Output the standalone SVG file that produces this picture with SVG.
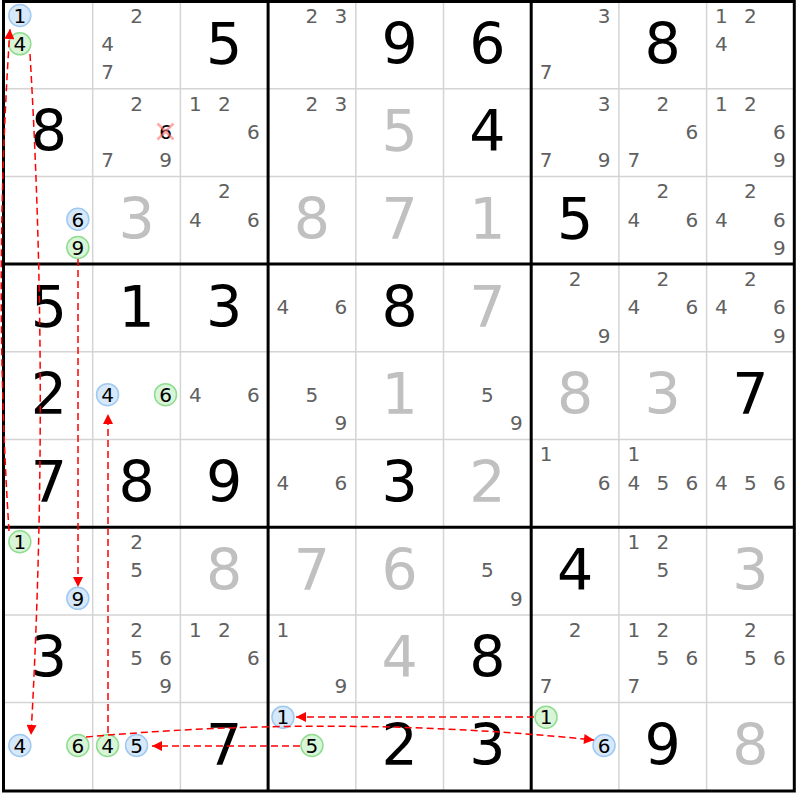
<svg xmlns="http://www.w3.org/2000/svg" width="800" height="800" viewBox="0 0 800 800">
<style>
text{font-family:"DejaVu Sans","Noto Sans",sans-serif;text-anchor:middle}
.g{font-size:57px;fill:#000}
.s{font-size:57px;fill:#c0c0c0}
.c{font-size:20px;fill:#606060}
.k{font-size:20px;fill:#000}
.thin{stroke:#d4d4d4;stroke-width:1.5}
.thick{stroke:#000;stroke-width:3}
.cb{fill:#d6e9fa;stroke:#a0c8f0;stroke-width:1.5}
.cg{fill:#d8f5d8;stroke:#90dc90;stroke-width:1.5}
.lk{fill:none;stroke:#ff0000;stroke-width:1.5;stroke-dasharray:7 4;marker-end:url(#arr)}
.x{stroke:#ff7070;stroke-opacity:0.6;stroke-width:2.5}
</style>
<defs>
<marker id="arr" viewBox="0 0 10 10" refX="10" refY="5" markerWidth="11" markerHeight="10" markerUnits="userSpaceOnUse" orient="auto">
<path d="M0,0 L10,5 L0,10 z" fill="#ff0000"/>
</marker>
</defs>
<rect x="0" y="0" width="800" height="800" fill="#fff"/>
<g id="grid">
<path class="thin" d="M92.7 1V790.3M180.4 1V790.3M355.8 1V790.3M443.5 1V790.3M618.9 1V790.3M706.6 1V790.3M5 88.7H794.3M5 176.4H794.3M5 351.8H794.3M5 439.5H794.3M5 614.9H794.3M5 702.6H794.3"/>
<path class="thick" d="M268.1 1V790.3M531.2 1V790.3M5 264.1H794.3M5 527.2H794.3"/>
<rect class="thick" x="3.5" y="1.5" width="790.8" height="789.5" fill="none"/>
</g>
<!-- Row 0 -->
<g id="r0c0"><circle class="cb" cx="19.85" cy="15.55" r="11"/><text class="k" x="19.85" y="22.85">1</text><circle class="cg" cx="19.85" cy="43.85" r="11"/><text class="k" x="19.85" y="51.15">4</text></g>
<g id="r0c1"><text class="c" x="136.55" y="22.85">2</text><text class="c" x="107.55" y="51.15">4</text><text class="c" x="107.55" y="79.45">7</text></g>
<g id="r0c2"><text class="g" x="224.25" y="63.55">5</text></g>
<g id="r0c3"><text class="c" x="311.95" y="22.85">2</text><text class="c" x="340.95" y="22.85">3</text></g>
<g id="r0c4"><text class="g" x="399.65" y="63.55">9</text></g>
<g id="r0c5"><text class="g" x="487.35" y="63.55">6</text></g>
<g id="r0c6"><text class="c" x="604.05" y="22.85">3</text><text class="c" x="546.05" y="79.45">7</text></g>
<g id="r0c7"><text class="g" x="662.75" y="63.55">8</text></g>
<g id="r0c8"><text class="c" x="721.45" y="22.85">1</text><text class="c" x="750.45" y="22.85">2</text><text class="c" x="721.45" y="51.15">4</text></g>
<!-- Row 1 -->
<g id="r1c0"><text class="g" x="48.85" y="151.25">8</text></g>
<g id="r1c1"><text class="c" x="136.55" y="110.55">2</text><text class="k" x="165.55" y="138.85">6</text><path class="x" d="M157.5 123.5L173.5 139.5M157.5 139.5L173.5 123.5"/><text class="c" x="107.55" y="167.15">7</text><text class="c" x="165.55" y="167.15">9</text></g>
<g id="r1c2"><text class="c" x="195.25" y="110.55">1</text><text class="c" x="224.25" y="110.55">2</text><text class="c" x="253.25" y="138.85">6</text></g>
<g id="r1c3"><text class="c" x="311.95" y="110.55">2</text><text class="c" x="340.95" y="110.55">3</text></g>
<g id="r1c4"><text class="s" x="399.65" y="151.25">5</text></g>
<g id="r1c5"><text class="g" x="487.35" y="151.25">4</text></g>
<g id="r1c6"><text class="c" x="604.05" y="110.55">3</text><text class="c" x="546.05" y="167.15">7</text><text class="c" x="604.05" y="167.15">9</text></g>
<g id="r1c7"><text class="c" x="662.75" y="110.55">2</text><text class="c" x="691.75" y="138.85">6</text><text class="c" x="633.75" y="167.15">7</text></g>
<g id="r1c8"><text class="c" x="721.45" y="110.55">1</text><text class="c" x="750.45" y="110.55">2</text><text class="c" x="779.45" y="138.85">6</text><text class="c" x="779.45" y="167.15">9</text></g>
<!-- Row 2 -->
<g id="r2c0"><circle class="cb" cx="77.85" cy="219.25" r="11"/><text class="k" x="77.85" y="226.55">6</text><circle class="cg" cx="77.85" cy="247.55" r="11"/><text class="k" x="77.85" y="254.85">9</text></g>
<g id="r2c1"><text class="s" x="136.55" y="238.95">3</text></g>
<g id="r2c2"><text class="c" x="224.25" y="198.25">2</text><text class="c" x="195.25" y="226.55">4</text><text class="c" x="253.25" y="226.55">6</text></g>
<g id="r2c3"><text class="s" x="311.95" y="238.95">8</text></g>
<g id="r2c4"><text class="s" x="399.65" y="238.95">7</text></g>
<g id="r2c5"><text class="s" x="487.35" y="238.95">1</text></g>
<g id="r2c6"><text class="g" x="575.05" y="238.95">5</text></g>
<g id="r2c7"><text class="c" x="662.75" y="198.25">2</text><text class="c" x="633.75" y="226.55">4</text><text class="c" x="691.75" y="226.55">6</text></g>
<g id="r2c8"><text class="c" x="750.45" y="198.25">2</text><text class="c" x="721.45" y="226.55">4</text><text class="c" x="779.45" y="226.55">6</text><text class="c" x="779.45" y="254.85">9</text></g>
<!-- Row 3 -->
<g id="r3c0"><text class="g" x="48.85" y="326.65">5</text></g>
<g id="r3c1"><text class="g" x="136.55" y="326.65">1</text></g>
<g id="r3c2"><text class="g" x="224.25" y="326.65">3</text></g>
<g id="r3c3"><text class="c" x="282.95" y="314.25">4</text><text class="c" x="340.95" y="314.25">6</text></g>
<g id="r3c4"><text class="g" x="399.65" y="326.65">8</text></g>
<g id="r3c5"><text class="s" x="487.35" y="326.65">7</text></g>
<g id="r3c6"><text class="c" x="575.05" y="285.95">2</text><text class="c" x="604.05" y="342.55">9</text></g>
<g id="r3c7"><text class="c" x="662.75" y="285.95">2</text><text class="c" x="633.75" y="314.25">4</text><text class="c" x="691.75" y="314.25">6</text></g>
<g id="r3c8"><text class="c" x="750.45" y="285.95">2</text><text class="c" x="721.45" y="314.25">4</text><text class="c" x="779.45" y="314.25">6</text><text class="c" x="779.45" y="342.55">9</text></g>
<!-- Row 4 -->
<g id="r4c0"><text class="g" x="48.85" y="414.35">2</text></g>
<g id="r4c1"><circle class="cb" cx="107.55" cy="394.65" r="11"/><text class="k" x="107.55" y="401.95">4</text><circle class="cg" cx="165.55" cy="394.65" r="11"/><text class="k" x="165.55" y="401.95">6</text></g>
<g id="r4c2"><text class="c" x="195.25" y="401.95">4</text><text class="c" x="253.25" y="401.95">6</text></g>
<g id="r4c3"><text class="c" x="311.95" y="401.95">5</text><text class="c" x="340.95" y="430.25">9</text></g>
<g id="r4c4"><text class="s" x="399.65" y="414.35">1</text></g>
<g id="r4c5"><text class="c" x="487.35" y="401.95">5</text><text class="c" x="516.35" y="430.25">9</text></g>
<g id="r4c6"><text class="s" x="575.05" y="414.35">8</text></g>
<g id="r4c7"><text class="s" x="662.75" y="414.35">3</text></g>
<g id="r4c8"><text class="g" x="750.45" y="414.35">7</text></g>
<!-- Row 5 -->
<g id="r5c0"><text class="g" x="48.85" y="502.05">7</text></g>
<g id="r5c1"><text class="g" x="136.55" y="502.05">8</text></g>
<g id="r5c2"><text class="g" x="224.25" y="502.05">9</text></g>
<g id="r5c3"><text class="c" x="282.95" y="489.65">4</text><text class="c" x="340.95" y="489.65">6</text></g>
<g id="r5c4"><text class="g" x="399.65" y="502.05">3</text></g>
<g id="r5c5"><text class="s" x="487.35" y="502.05">2</text></g>
<g id="r5c6"><text class="c" x="546.05" y="461.35">1</text><text class="c" x="604.05" y="489.65">6</text></g>
<g id="r5c7"><text class="c" x="633.75" y="461.35">1</text><text class="c" x="633.75" y="489.65">4</text><text class="c" x="662.75" y="489.65">5</text><text class="c" x="691.75" y="489.65">6</text></g>
<g id="r5c8"><text class="c" x="721.45" y="489.65">4</text><text class="c" x="750.45" y="489.65">5</text><text class="c" x="779.45" y="489.65">6</text></g>
<!-- Row 6 -->
<g id="r6c0"><circle class="cg" cx="19.85" cy="541.75" r="11"/><text class="k" x="19.85" y="549.05">1</text><circle class="cb" cx="77.85" cy="598.35" r="11"/><text class="k" x="77.85" y="605.65">9</text></g>
<g id="r6c1"><text class="c" x="136.55" y="549.05">2</text><text class="c" x="136.55" y="577.35">5</text></g>
<g id="r6c2"><text class="s" x="224.25" y="589.75">8</text></g>
<g id="r6c3"><text class="s" x="311.95" y="589.75">7</text></g>
<g id="r6c4"><text class="s" x="399.65" y="589.75">6</text></g>
<g id="r6c5"><text class="c" x="487.35" y="577.35">5</text><text class="c" x="516.35" y="605.65">9</text></g>
<g id="r6c6"><text class="g" x="575.05" y="589.75">4</text></g>
<g id="r6c7"><text class="c" x="633.75" y="549.05">1</text><text class="c" x="662.75" y="549.05">2</text><text class="c" x="662.75" y="577.35">5</text></g>
<g id="r6c8"><text class="s" x="750.45" y="589.75">3</text></g>
<!-- Row 7 -->
<g id="r7c0"><text class="g" x="48.85" y="677.45">3</text></g>
<g id="r7c1"><text class="c" x="136.55" y="636.75">2</text><text class="c" x="136.55" y="665.05">5</text><text class="c" x="165.55" y="665.05">6</text><text class="c" x="165.55" y="693.35">9</text></g>
<g id="r7c2"><text class="c" x="195.25" y="636.75">1</text><text class="c" x="224.25" y="636.75">2</text><text class="c" x="253.25" y="665.05">6</text></g>
<g id="r7c3"><text class="c" x="282.95" y="636.75">1</text><text class="c" x="340.95" y="693.35">9</text></g>
<g id="r7c4"><text class="s" x="399.65" y="677.45">4</text></g>
<g id="r7c5"><text class="g" x="487.35" y="677.45">8</text></g>
<g id="r7c6"><text class="c" x="575.05" y="636.75">2</text><text class="c" x="546.05" y="693.35">7</text></g>
<g id="r7c7"><text class="c" x="633.75" y="636.75">1</text><text class="c" x="662.75" y="636.75">2</text><text class="c" x="662.75" y="665.05">5</text><text class="c" x="691.75" y="665.05">6</text><text class="c" x="633.75" y="693.35">7</text></g>
<g id="r7c8"><text class="c" x="750.45" y="636.75">2</text><text class="c" x="750.45" y="665.05">5</text><text class="c" x="779.45" y="665.05">6</text></g>
<!-- Row 8 -->
<g id="r8c0"><circle class="cb" cx="19.85" cy="745.45" r="11"/><text class="k" x="19.85" y="752.75">4</text><circle class="cg" cx="77.85" cy="745.45" r="11"/><text class="k" x="77.85" y="752.75">6</text></g>
<g id="r8c1"><circle class="cg" cx="107.55" cy="745.45" r="11"/><text class="k" x="107.55" y="752.75">4</text><circle class="cb" cx="136.55" cy="745.45" r="11"/><text class="k" x="136.55" y="752.75">5</text></g>
<g id="r8c2"><text class="g" x="224.25" y="765.15">7</text></g>
<g id="r8c3"><circle class="cb" cx="282.95" cy="717.15" r="11"/><text class="k" x="282.95" y="724.45">1</text><circle class="cg" cx="311.95" cy="745.45" r="11"/><text class="k" x="311.95" y="752.75">5</text></g>
<g id="r8c4"><text class="g" x="399.65" y="765.15">2</text></g>
<g id="r8c5"><text class="g" x="487.35" y="765.15">3</text></g>
<g id="r8c6"><circle class="cg" cx="546.05" cy="717.15" r="11"/><text class="k" x="546.05" y="724.45">1</text><circle class="cb" cx="604.05" cy="745.45" r="11"/><text class="k" x="604.05" y="752.75">6</text></g>
<g id="r8c7"><text class="g" x="662.75" y="765.15">9</text></g>
<g id="r8c8"><text class="s" x="750.45" y="765.15">8</text></g>
<g id="connectors">
<path class="lk" d="M9 531 Q-7 280 10 29"/>
<path class="lk" d="M30 54 Q50 394 31 735"/>
<path class="lk" d="M78 259 L78 587"/>
<path class="lk" d="M108 733 L108 414"/>
<path class="lk" d="M300 746 L152 746"/>
<path class="lk" d="M534 717 L296 717"/>
<path class="lk" d="M86 737 Q340 714 594 740"/>
</g>
</svg>
